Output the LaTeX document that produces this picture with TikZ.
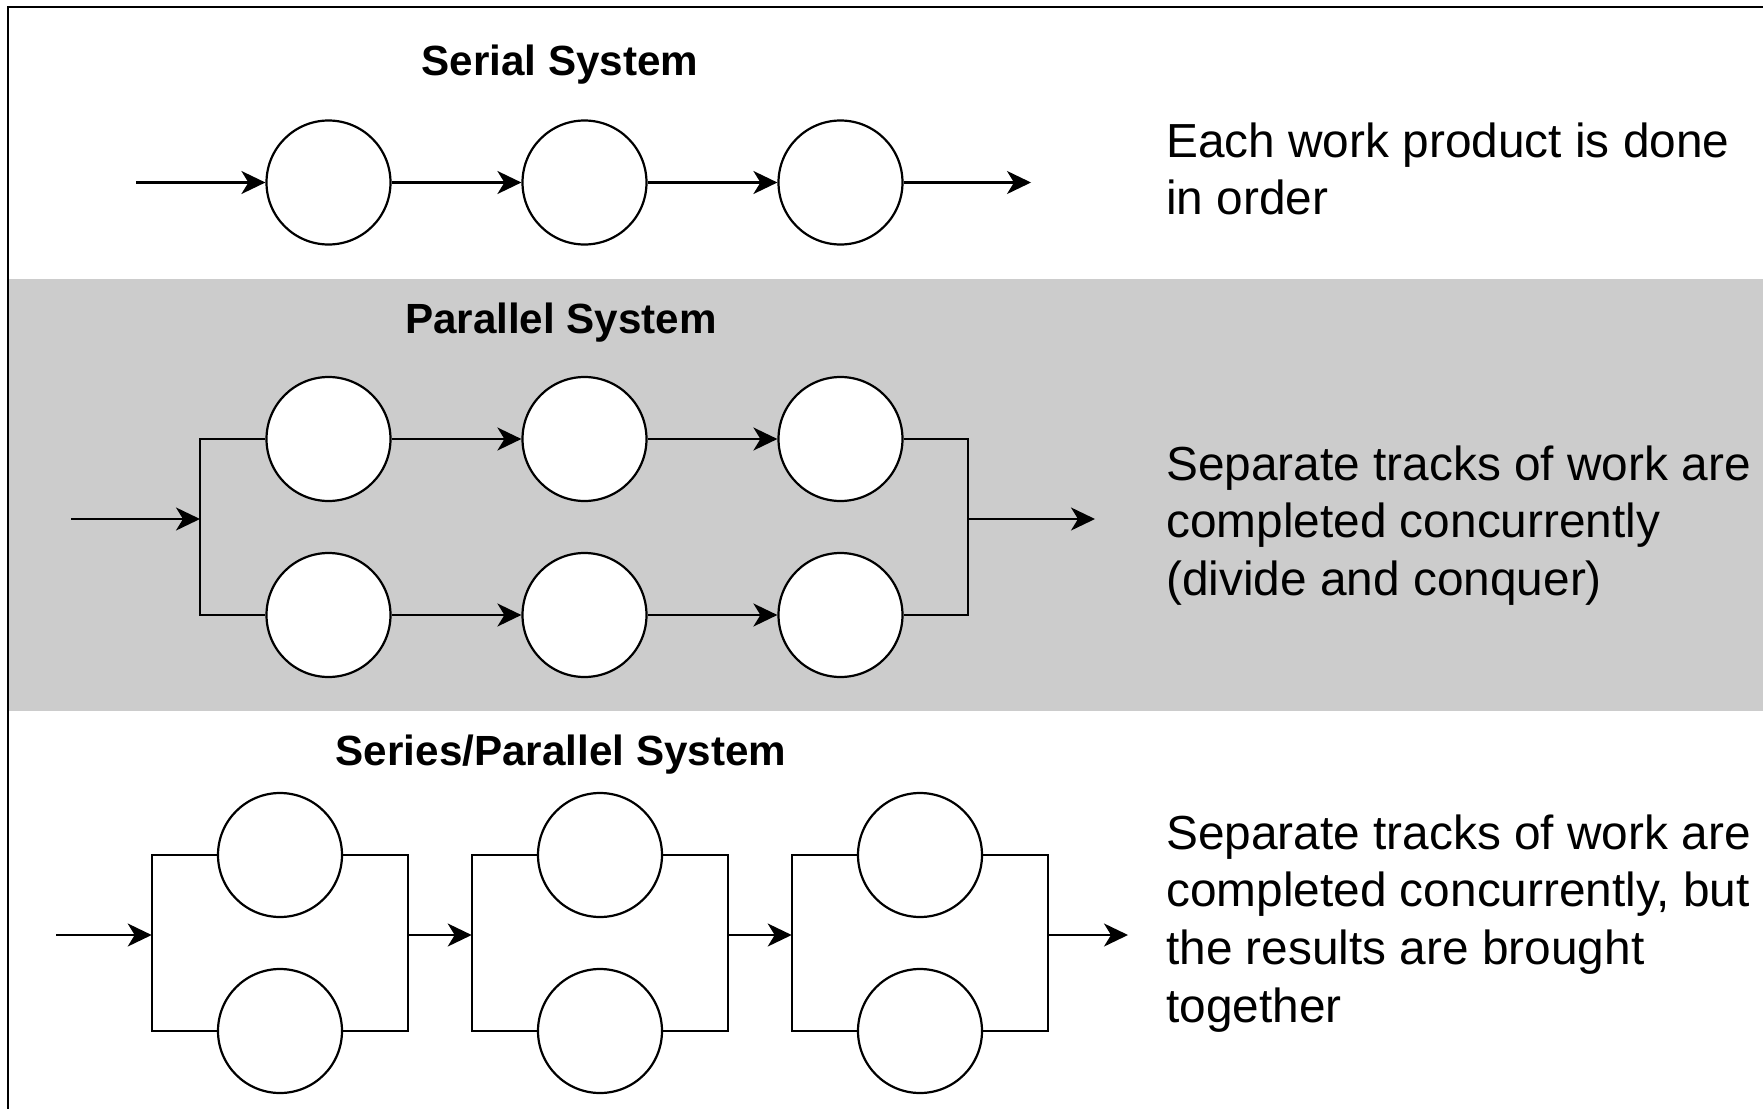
\documentclass[tikz,border=0pt]{standalone}
\usepackage{fontspec}
\setmainfont{Liberation Sans}
\usetikzlibrary{arrows.meta}
\definecolor{bandgray}{RGB}{204,204,204}

\begin{document}
\begin{tikzpicture}[x=1pt,y=-1pt,
  stage/.style={circle, draw, fill=white, line width=2.2pt, minimum size=124pt, inner sep=0pt},
  wire/.style={line width=2.2pt},
  flow/.style={wire, -{Stealth[length=24pt,width=23pt,inset=7pt]}},
  heading/.style={font=\fontsize{42.2}{50}\selectfont\bfseries, anchor=base, inner sep=0pt},
  note/.style={font=\fontsize{47.8}{57.7}\selectfont, anchor=base west, align=left, inner sep=0pt}]
\useasboundingbox (0,0) rectangle (1763,1108);

% shaded band behind the parallel system
\fill[bandgray] (8,279) rectangle (1763,711);
% frame (open at the right and bottom)
\draw[line width=2.8pt] (8,1110) -- (8,7) -- (1765,7);

% ---------- serial system ----------
\node[heading] (tserial) at (560,75) {Serial System};
\node[stage] (s1) at (328.5,182.5) {};
\node[stage] (s2) at (584.5,182.5) {};
\node[stage] (s3) at (840.5,182.5) {};
\coordinate (sin) at (136,182.5);
\coordinate (sout) at (1031,182.5);
\draw[flow] (sin) -- (s1);
\draw[flow] (s1) -- (s2);
\draw[flow] (s2) -- (s3);
\draw[flow] (s3) -- (sout);
% the base anchor of a multi-line note sits on its last line
\node[note] (nserial) at (1166,214.7) {Each work product is done\\in order};

% ---------- parallel system ----------
\node[heading] (tpar) at (561,333) {Parallel System};
\node[stage] (p11) at (328.5,439) {};
\node[stage] (p12) at (584.5,439) {};
\node[stage] (p13) at (840.5,439) {};
\node[stage] (p21) at (328.5,615) {};
\node[stage] (p22) at (584.5,615) {};
\node[stage] (p23) at (840.5,615) {};
\coordinate (pin) at (71,519);
\coordinate (psplit) at (200,519);
\coordinate (pjoin) at (968,519);
\coordinate (pout) at (1095,519);
\draw[flow] (pin) -- (psplit);
\draw[wire] (p11.west) -| (psplit) |- (p21.west);
\draw[flow] (p11) -- (p12);
\draw[flow] (p12) -- (p13);
\draw[flow] (p21) -- (p22);
\draw[flow] (p22) -- (p23);
\draw[wire] (p13.east) -| (pjoin) |- (p23.east);
\draw[flow] (pjoin) -- (pout);
\node[note] (npar) at (1166,595.4) {Separate tracks of work are\\completed concurrently\\(divide and conquer)};

% ---------- series/parallel system ----------
\node[heading] (tsp) at (561,765) {Series/Parallel System};
\foreach \k/\cx in {1/280,2/600,3/920}{
  \node[stage] (q\k a) at (\cx,855) {};
  \node[stage] (q\k b) at (\cx,1031) {};
  \coordinate (bl\k) at (\cx-128.3,935);
  \coordinate (br\k) at (\cx+128.3,935);
  \draw[wire] (q\k a.west) -| (bl\k) |- (q\k b.west);
  \draw[wire] (q\k a.east) -| (br\k) |- (q\k b.east);
}
\coordinate (qin) at (56,935);
\coordinate (qout) at (1128,935);
\draw[flow] (qin) -- (bl1);
\draw[flow] (br1) -- (bl2);
\draw[flow] (br2) -- (bl3);
\draw[flow] (br3) -- (qout);
\node[note] (nsp) at (1166,1022.1) {Separate tracks of work are\\completed concurrently, but\\the results are brought\\together};
\end{tikzpicture}
\end{document}
